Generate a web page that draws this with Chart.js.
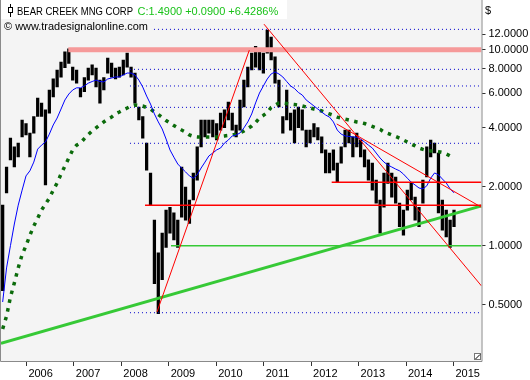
<!DOCTYPE html>
<html><head><meta charset="utf-8">
<script src="https://cdn.jsdelivr.net/npm/chart.js@4.4.0/dist/chart.umd.min.js"></script>
<style>html,body{margin:0;padding:0;background:#fff;overflow:hidden}canvas{display:block}</style>
</head><body>
<canvas id="c" width="530" height="380"></canvas>
<script>
// ---- data ----
const START = 2005.5;          // first bar (decimal year)
const STEP = 0.082;            // bar spacing (years, ~monthly)
const priceHigh = [1.61,2.52,3.54,3.19,3.34,4.38,4.20,3.75,4.56,5.67,5.34,4.93,6.23,7.10,7.88,8.65,9.75,10.1,8.15,7.88,
  6.35,7.20,8.05,8.36,8.05,7.00,7.20,9.05,8.55,8.05,8.15,8.86,9.60,8.15,7.60,5.10,4.56,3.34,2.35,1.35,
  0.92,1.16,1.52,1.57,1.47,1.35,2.52,1.99,1.71,2.35,3.19,4.38,4.38,4.38,4.38,4.20,4.75,4.93,5.40,4.75,
  4.13,5.54,7.00,8.15,9.60,10.4,9.97,9.60,12.6,11.6,9.20,7.00,4.56,6.23,4.75,4.93,5.10,4.93,3.89,3.89,
  4.20,4.00,3.59,3.08,2.97,3.08,2.64,3.19,3.89,3.89,3.59,3.75,3.46,3.08,2.74,2.64,2.16,1.71,2.35,2.64,
  2.35,2.24,1.65,1.52,1.92,2.08,1.77,1.57,2.16,3.19,3.46,3.34,2.97,1.71,1.52,1.35,1.52];
const priceLow = [0.59,1.86,2.74,2.52,2.84,3.59,3.67,2.84,3.75,4.56,4.56,2.04,4.75,5.75,6.45,7.25,8.10,8.50,7.00,6.75,
  5.75,6.10,7.00,7.43,6.45,5.34,6.23,7.60,7.25,7.10,7.25,7.43,8.15,7.25,5.34,4.38,3.54,2.43,1.61,0.64,
  0.45,0.67,0.98,1.16,1.07,0.98,1.40,1.35,1.30,1.71,2.16,3.19,3.59,3.75,3.59,3.46,3.89,4.00,4.38,3.89,
  3.59,3.89,5.10,6.45,7.88,8.15,7.88,7.60,9.60,8.86,6.75,5.10,3.75,4.38,3.89,3.34,4.00,3.89,3.19,3.34,
  3.59,3.46,2.97,2.35,2.35,2.43,2.11,2.64,3.19,3.34,2.84,3.19,2.84,2.52,2.16,1.92,1.65,1.16,1.57,2.08,
  1.77,1.65,1.25,1.13,1.52,1.71,1.35,1.25,1.65,2.24,2.84,2.97,1.47,1.20,1.11,0.98,1.25];
const maFast = [0.516,0.77,1.0,1.29,1.61,1.92,2.27,2.41,2.67,3.11,3.26,3.38,3.71,4.13,4.48,4.98,5.54,5.94,6.23,6.39,
  6.39,6.53,6.75,6.88,7.0,6.88,6.85,7.09,7.17,7.26,7.26,7.43,7.6,7.6,7.43,7.0,6.45,5.8,5.28,4.7,
  4.28,3.94,3.5,3.08,2.83,2.61,2.49,2.38,2.27,2.21,2.30,2.49,2.67,2.87,2.97,3.08,3.15,3.34,3.46,3.63,
  3.67,3.76,3.99,4.28,4.7,5.35,6.01,6.53,7.09,7.52,7.7,7.52,7.26,6.88,6.53,6.34,6.05,5.87,5.54,5.35,
  5.16,4.98,4.81,4.64,4.53,4.28,3.89,3.71,3.63,3.61,3.59,3.57,3.5,3.38,3.26,3.15,2.97,2.8,2.67,2.58,
  2.52,2.46,2.41,2.32,2.21,2.11,2.04,1.97,1.95,2.02,2.21,2.35,2.30,2.19,2.09,1.95,1.86];
const maSlow = [0.376,0.437,0.547,0.645,0.77,0.90,1.0,1.13,1.26,1.38,1.52,1.63,1.75,1.92,2.09,2.32,2.55,2.80,3.08,3.26,
  3.34,3.52,3.69,3.85,3.99,4.13,4.28,4.43,4.53,4.70,4.81,4.93,5.04,5.16,5.22,5.19,5.16,5.07,4.98,4.81,
  4.67,4.51,4.35,4.23,4.10,3.99,3.89,3.80,3.67,3.61,3.59,3.59,3.59,3.59,3.59,3.59,3.61,3.63,3.65,3.67,
  3.71,3.76,3.85,3.96,4.08,4.25,4.48,4.62,4.78,5.07,5.22,5.35,5.35,5.32,5.28,5.25,5.22,5.16,5.10,5.04,
  4.98,4.93,4.87,4.78,4.70,4.62,4.53,4.48,4.43,4.38,4.33,4.28,4.25,4.20,4.13,4.06,3.99,3.92,3.80,3.74,
  3.67,3.61,3.54,3.46,3.38,3.30,3.23,3.15,3.10,3.06,3.04,3.04,3.02,2.99,2.94,2.87,2.80];
const yTickValues = [0.5, 1, 2, 4, 6, 8, 10, 12];
const xTickYears = [2006, 2007, 2008, 2009, 2010, 2011, 2012, 2013, 2014, 2015];
const X_MIN = 2005.465, X_MAX = 2015.591;
const Y_MIN = 0.258, Y_MAX = 17.93;
// drawn lines: [year, price] end points
const redUp = [[2008.752, 0.459], [2010.698, 9.95]];
const redDown1 = [[2011.007, 13.5], [2015.591, 0.623]];
const redDown2 = [[2012.540, 4.18], [2015.591, 1.57]];
const greenTrend = [[2005.465, 0.318], [2015.591, 1.596]];
const redLevels = [[2012.434, 2.11], [2008.500, 1.61]];   // [start year, price]
const greenLevel = [2009.047, 1.0];
const pinkLevel = [2006.883, 10.0];
const dotLevelStart = 2008.183;
const dotLevels = [12.7, 7.94, 6.53, 5.08, 3.33, 0.455];

// ---- build ----
const dates = priceHigh.map((_, i) => START + i * STEP);
const pts = arr => arr.map(p => ({x: p[0], y: p[1]}));
const level = (from, v) => [{x: from, y: v}, {x: X_MAX, y: v}];
const lineDs = (data, color, width, extra) => Object.assign({
  type: 'line', data, borderColor: color, borderWidth: width, pointRadius: 0,
  fill: false, order: 0, tension: 0
}, extra || {});

const datasets = [];
datasets.push(lineDs(pts(redUp), '#ff0000', 1));
datasets.push(lineDs(pts(redDown1), '#ff0000', 1));
datasets.push(lineDs(pts(redDown2), '#ff0000', 1));
redLevels.forEach(l => datasets.push(lineDs(level(l[0], l[1]), '#ff0000', 1.5)));
datasets.push(lineDs(pts(greenTrend), '#36c936', 3));
datasets.push(lineDs(level(greenLevel[0], greenLevel[1]), '#36c936', 1.5));
datasets.push(lineDs(dates.map((d, i) => ({x: d, y: maFast[i]})), '#0000ff', 1));
datasets.push(lineDs(dates.map((d, i) => ({x: d, y: maSlow[i]})), '#0b6b0b', 3.5, {borderDash: [3.5, 5.5], borderCapStyle: 'butt'}));
dotLevels.forEach(v => datasets.push(lineDs(level(dotLevelStart, v), '#0000cc', 1, {borderDash: [1, 3]})));
datasets.push(lineDs(level(pinkLevel[0], pinkLevel[1]), '#f69a9a', 5));
datasets.push({
  type: 'bar', data: dates.map((d, i) => ({x: d, y: [priceLow[i], priceHigh[i]]})),
  backgroundColor: '#000000', borderWidth: 0, barThickness: 2.6, order: 1
});

const deco = {
  id: 'deco',
  beforeDraw(chart) {
    const {ctx, chartArea: a} = chart;
    ctx.save();
    ctx.fillStyle = '#ffffff';
    ctx.fillRect(0, 0, chart.width, chart.height);
    ctx.fillStyle = '#f4f4f4';
    ctx.fillRect(a.left, a.top, a.right - a.left, a.bottom - a.top);
    ctx.restore();
  },
  afterDraw(chart) {
    const {ctx, chartArea: a} = chart;
    ctx.save();
    // frame
    ctx.strokeStyle = '#8a8a8a';
    ctx.lineWidth = 1;
    ctx.beginPath();
    ctx.moveTo(0.5, 0); ctx.lineTo(0.5, a.bottom + 0.5);
    ctx.lineTo(a.right + 0.5, a.bottom + 0.5); ctx.lineTo(a.right + 0.5, 0);
    ctx.stroke();
    // title box
    ctx.fillStyle = '#ffffff';
    ctx.fillRect(1, 0, 286, 19);
    ctx.fillStyle = '#f4f4f4';
    ctx.fillRect(1, 19, 150, 14);
    // icon
    ctx.strokeStyle = '#000';
    ctx.beginPath();
    ctx.moveTo(10.5, 4); ctx.lineTo(10.5, 17); ctx.stroke();
    ctx.fillStyle = '#fff';
    ctx.fillRect(8.5, 7.5, 4, 5);
    ctx.strokeRect(8.5, 7.5, 4, 5);
    ctx.font = '11px "Liberation Sans", Arial, sans-serif';
    ctx.textBaseline = 'alphabetic';
    ctx.textAlign = 'left';
    ctx.fillStyle = '#000';
    ctx.fillText('BEAR CREEK MNG CORP', 17, 15, 116);
    ctx.fillStyle = '#19c219';
    ctx.fillText('C:1.4900 +0.0900 +6.4286%', 137.5, 15, 145);
    ctx.fillStyle = '#000';
    ctx.fillText('\u00A9 www.tradesignalonline.com', 4, 30, 144);
    // currency
    ctx.fillText('$', 485, 14);
    // corner icon
    ctx.fillStyle = '#fff';
    ctx.fillRect(474.5, 353.5, 6, 6);
    ctx.strokeStyle = '#777';
    ctx.strokeRect(474.5, 353.5, 6, 6);
    ctx.strokeStyle = '#000';
    ctx.beginPath(); ctx.moveTo(475.5, 359); ctx.lineTo(480, 354.5); ctx.stroke();
    ctx.restore();
  }
};

Chart.defaults.font.family = '"Liberation Sans", Arial, sans-serif';
Chart.defaults.font.size = 11;
Chart.defaults.color = '#000';

new Chart(document.getElementById('c'), {
  type: 'bar',
  data: {datasets},
  options: {
    responsive: false, animation: false, devicePixelRatio: 1,
    layout: {padding: {left: 1, top: 0, right: 0, bottom: 0}},
    plugins: {legend: {display: false}, tooltip: {enabled: false}},
    scales: {
      x: {
        type: 'linear', min: X_MIN, max: X_MAX, offset: false,
        grid: {drawOnChartArea: false, drawTicks: true, tickLength: 5, color: '#333', offset: false},
        border: {display: false},
        afterBuildTicks: s => { s.ticks = xTickYears.map(v => ({value: v})); s.min = X_MIN; s.max = X_MAX; },
        afterFit: s => { s.height = 19; s.paddingLeft = 0; s.paddingRight = 0; s.paddingTop = 0; s.paddingBottom = 0; },
        ticks: {align: 'start', labelOffset: 2, padding: 1, maxRotation: 0, autoSkip: false,
          callback: v => String(v), color: '#000'}
      },
      y: {
        type: 'logarithmic', position: 'right', min: Y_MIN, max: Y_MAX,
        grid: {drawOnChartArea: false, drawTicks: true, tickLength: 4, color: '#333'},
        border: {display: false},
        afterBuildTicks: s => { s.ticks = yTickValues.map(v => ({value: v})); s.min = Y_MIN; s.max = Y_MAX; },
        afterFit: s => { s.width = 48.5; s.paddingTop = 0; s.paddingBottom = 0; s.paddingLeft = 0; s.paddingRight = 0; },
        ticks: {padding: 3, autoSkip: false, callback: v => Number(v).toFixed(4), color: '#000'}
      }
    }
  },
  plugins: [deco]
});
</script>
</body></html>
